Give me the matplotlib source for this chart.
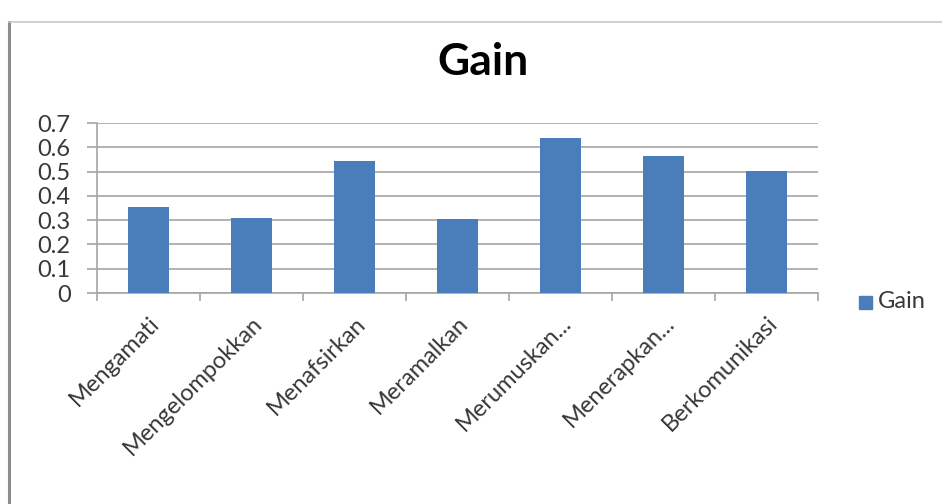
import matplotlib
matplotlib.use("Agg")
import matplotlib.pyplot as plt
from matplotlib.lines import Line2D
from matplotlib.patches import Rectangle
import numpy as np

categories = ["Mengamati", "Mengelompokkan", "Menafsirkan", "Meramalkan",
              "Merumuskan...", "Menerapkan...", "Berkomunikasi"]
gain = [0.353, 0.31, 0.543, 0.303, 0.637, 0.564, 0.502]
yticks = [0, 0.1, 0.2, 0.3, 0.4, 0.5, 0.6, 0.7]
ytick_labels = ["0", "0.1", "0.2", "0.3", "0.4", "0.5", "0.6", "0.7"]

plt.rcParams["font.family"] = ["Lato", "DejaVu Sans"]

fig = plt.figure(figsize=(9.42, 5.04), dpi=100)
fig.patch.set_facecolor("white")

# outer chart frame
fig.add_artist(Line2D([9 / 942, 9 / 942], [0, 1 - 22 / 504], transform=fig.transFigure,
                      color="#8c8c8c", lw=2.2))
fig.add_artist(Line2D([9 / 942, 1], [1 - 22 / 504, 1 - 22 / 504], transform=fig.transFigure,
                      color="#c8c8c8", lw=1.2))

ax = fig.add_axes([97 / 942, 1 - 293 / 504, (818 - 97) / 942, (293 - 123) / 504])
x = np.arange(len(categories))
bar_color = "#4a7ebb"
ax.bar(x, gain, width=0.4, color=bar_color, zorder=3)

ax.set_xlim(-0.5, len(categories) - 0.5)
ax.set_ylim(0, 0.7)
ax.set_yticks(yticks)
ax.set_yticklabels(ytick_labels, fontsize=17, color="#383838")
ax.yaxis.grid(True, color="#a6a6a6", lw=1.2, zorder=0)

ax.set_xticks(x)
ax.set_xticklabels(categories, rotation=45, ha="right", rotation_mode="anchor",
                   fontsize=17, color="#383838")
ax.tick_params(axis="x", length=0, pad=14)
ax.set_xticks(np.arange(-0.5, len(categories)), minor=True)
ax.tick_params(axis="x", which="minor", length=6, color="#a6a6a6", width=1.2)
ax.tick_params(axis="y", length=7, color="#a6a6a6", width=1.2, pad=12)

for s in ["top", "right"]:
    ax.spines[s].set_visible(False)
ax.spines["left"].set_color("#a6a6a6")
ax.spines["bottom"].set_color("#a6a6a6")
ax.spines["left"].set_linewidth(1.2)
ax.spines["bottom"].set_linewidth(1.2)

fig.text(483 / 942, 1 - 62 / 504, "Gain", ha="center", va="center",
         fontsize=32, fontweight="bold", color="black")

# legend
fig.add_artist(Rectangle((859 / 942, 1 - 309 / 504), 13 / 942, 13 / 504,
                         transform=fig.transFigure, color=bar_color))
fig.text(878 / 942, 1 - 302 / 504, "Gain", ha="left", va="center",
         fontsize=17, color="#383838")

fig.savefig("out.png", dpi=100, facecolor="white")
